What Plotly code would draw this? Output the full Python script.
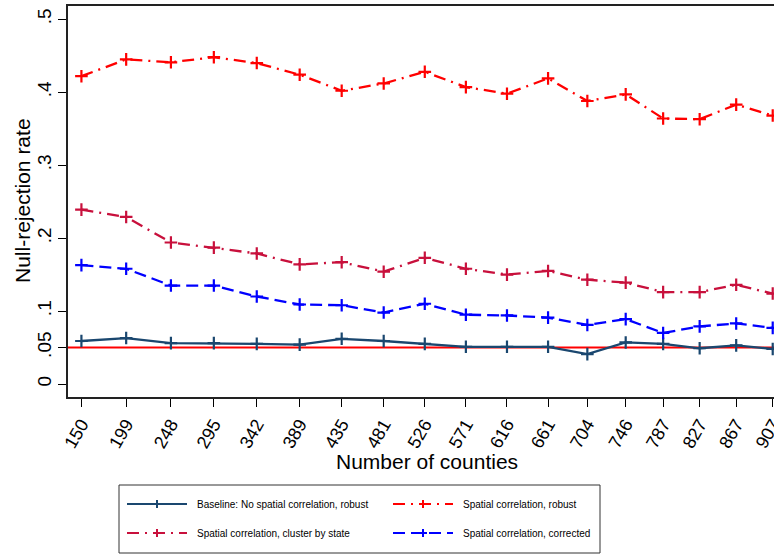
import plotly.graph_objects as go

# Number of counties in each simulation design
counties = [150, 199, 248, 295, 342, 389, 435, 481, 526, 571, 616, 661, 704, 746, 787, 827, 867, 907]

# Null-rejection rates by inference method
baseline_robust = [0.059, 0.063, 0.056, 0.056, 0.055, 0.054, 0.062, 0.059, 0.055, 0.051,
                   0.051, 0.051, 0.041, 0.057, 0.055, 0.049, 0.053, 0.048]
spatial_robust = [0.422, 0.445, 0.441, 0.448, 0.440, 0.424, 0.402, 0.412, 0.428, 0.407,
                  0.398, 0.419, 0.388, 0.397, 0.364, 0.363, 0.383, 0.368]
spatial_cluster = [0.239, 0.229, 0.194, 0.187, 0.179, 0.164, 0.167, 0.154, 0.173, 0.158,
                   0.150, 0.155, 0.143, 0.139, 0.126, 0.126, 0.136, 0.124]
spatial_corrected = [0.163, 0.158, 0.135, 0.135, 0.120, 0.109, 0.108, 0.098, 0.110, 0.095,
                     0.094, 0.091, 0.081, 0.089, 0.070, 0.079, 0.083, 0.077]

nominal_size = 0.05
y_tickvals = [0, 0.05, 0.1, 0.2, 0.3, 0.4, 0.5]
y_ticktext = ["0", ".05", ".1", ".2", ".3", ".4", ".5"]

NAVY = "#1a476f"
RED = "#ff0000"
CRANBERRY = "#c8103c"
BLUE = "#0000ff"
DASHDOT = "12px,6px,2px,6px"
DASH = "12px,6px"

series = [
    ("Baseline: No spatial correlation, robust", baseline_robust, NAVY, "solid"),
    ("Spatial correlation, robust", spatial_robust, RED, DASHDOT),
    ("Spatial correlation, cluster by state", spatial_cluster, CRANBERRY, DASHDOT),
    ("Spatial correlation, corrected", spatial_corrected, BLUE, DASH),
]

W, H = 774, 554
L, R, T, B = 68, 0, 6, 157
PW, PH = W - L - R, H - T - B

MAIN_FONT = "Liberation Sans, Arial, sans-serif"


def px_x(p):
    return (p - L) / PW


def px_y(p):
    return (H - B - p) / PH


fig = go.Figure()

for name, vals, color, dash in series:
    fig.add_trace(go.Scatter(
        x=counties, y=vals, name=name, mode="lines+markers",
        line=dict(color=color, width=2.3, dash=dash),
        marker=dict(symbol="cross-thin", size=9, color=color,
                    line=dict(color=color, width=2.2)),
        showlegend=False,
    ))

shapes = [
    dict(type="line", xref="paper", x0=0, x1=1, yref="y", y0=nominal_size, y1=nominal_size,
         line=dict(color=RED, width=2), layer="below"),
    # legend frame
    dict(type="rect", xref="paper", yref="paper",
         x0=px_x(119), x1=px_x(600), y0=px_y(485), y1=px_y(553),
         line=dict(color="#333333", width=1)),
]
annotations = [
    dict(text="Null-rejection rate", xref="paper", yref="paper",
         x=px_x(22), y=px_y(201), textangle=-90, showarrow=False,
         font=dict(size=21, color="#000000"), xanchor="center", yanchor="middle"),
    dict(text="Number of counties", xref="paper", yref="paper",
         x=px_x(427), y=px_y(461), showarrow=False,
         font=dict(size=21, color="#000000"), xanchor="center", yanchor="middle"),
]

# legend entries: two columns, row-major order
slots = [(127, 504), (393, 504), (127, 533), (393, 533)]
for (name, _, color, dash), (lx, ly) in zip(series, slots):
    shapes.append(dict(type="line", xref="paper", yref="paper",
                       x0=px_x(lx), x1=px_x(lx + 60), y0=px_y(ly), y1=px_y(ly),
                       line=dict(color=color, width=2, dash=dash)))
    cx = lx + 30
    shapes.append(dict(type="line", xref="paper", yref="paper",
                       x0=px_x(cx - 4), x1=px_x(cx + 4), y0=px_y(ly), y1=px_y(ly),
                       line=dict(color=color, width=2)))
    shapes.append(dict(type="line", xref="paper", yref="paper",
                       x0=px_x(cx), x1=px_x(cx), y0=px_y(ly - 4), y1=px_y(ly + 4),
                       line=dict(color=color, width=2)))
    annotations.append(dict(text=name, xref="paper", yref="paper",
                            x=px_x(lx + 68), y=px_y(ly), showarrow=False,
                            xanchor="left", yanchor="middle",
                            font=dict(size=10, color="#000000")))

fig.update_layout(
    width=W, height=H,
    margin=dict(l=L, r=R, t=T, b=B, autoexpand=False),
    paper_bgcolor="white", plot_bgcolor="white",
    font=dict(family=MAIN_FONT, color="#000000"),
    shapes=shapes, annotations=annotations,
    xaxis=dict(
        range=[135.3, 908.4], tickvals=counties, ticktext=[str(c) for c in counties],
        tickangle=-60, tickfont=dict(size=18), ticks="outside", ticklen=8,
        ticklabeloverflow="allow",
        tickcolor="#000000", showline=True, linecolor="#222222", linewidth=1.5,
        mirror=True, showgrid=False, zeroline=False,
    ),
    yaxis=dict(
        range=[-0.0178, 0.5182], tickvals=y_tickvals, ticktext=y_ticktext,
        tickangle=-90, tickfont=dict(size=19), ticks="outside", ticklen=8,
        tickcolor="#000000", showline=True, linecolor="#222222", linewidth=1.5,
        mirror=False, showgrid=False, zeroline=False,
    ),
)

fig.write_html("out.html")
